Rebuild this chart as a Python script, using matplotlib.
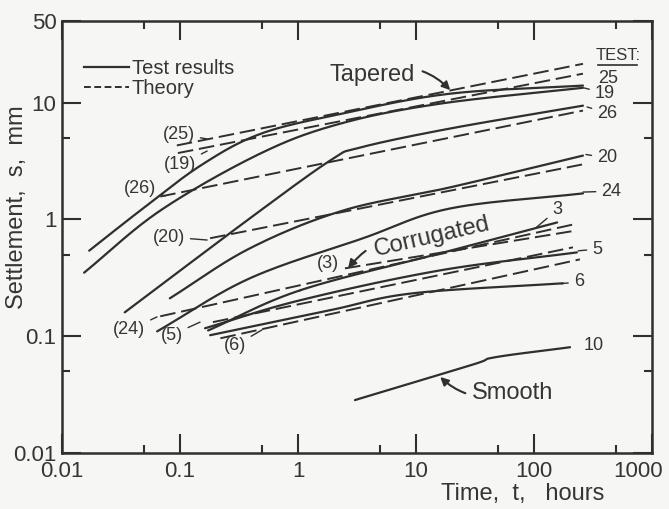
import numpy as np
import matplotlib.pyplot as plt
from matplotlib.lines import Line2D
from matplotlib.ticker import FixedLocator, NullFormatter
import matplotlib.transforms as mtransforms

plt.rcParams['font.family'] = ['Liberation Sans', 'DejaVu Sans']

# test results (solid), time in hours, settlement in mm
t25 = [0.017, 0.046, 0.15, 0.48, 2.3, 19, 260]
s25 = [0.54, 1.19, 2.9, 5.4, 8.0, 11.9, 14.0]
t19 = [0.0154, 0.068, 0.48, 2.27, 16, 260]
s19 = [0.35, 1.19, 3.67, 6.6, 9.8, 13.4]
t26 = [0.034, 0.39, 1.87, 3.35, 19.4, 260]
s26 = [0.16, 1.02, 3.19, 4.12, 6.0, 9.42]
t20 = [0.082, 0.39, 2.4, 19.4, 260]
s20 = [0.211, 0.565, 1.19, 1.88, 3.52]
t24 = [0.064, 0.39, 3.56, 19.4, 260]
s24 = [0.110, 0.313, 0.69, 1.24, 1.67]
t3 = [0.173, 1.04, 16, 157]
s3 = [0.112, 0.247, 0.512, 0.942]
t5 = [0.163, 1.04, 16, 231]
s5 = [0.117, 0.203, 0.366, 0.522]
t6 = [0.18, 1.87, 9.4, 176]
s6 = [0.102, 0.167, 0.233, 0.284]
t10 = [3.04, 30, 46.7, 202]
s10 = [0.0284, 0.057, 0.066, 0.0805]

# theory (dashed)
tt25 = [0.094, 260]
st25 = [4.3, 21.5]
tt19 = [0.096, 260]
st19 = [3.7, 17.7]
tt26 = [0.068, 260]
st26 = [1.57, 8.55]
tt20 = [0.18, 281]
st20 = [0.69, 3.01]
tt24 = [0.068, 231]
st24 = [0.148, 0.92]
tt3 = [2.5, 231]
st3 = [0.381, 0.805]
tt5 = [0.19, 214]
st5 = [0.132, 0.577]
tt6 = [0.22, 245]
st6 = [0.096, 0.455]

xticks = [0.01, 0.1, 1, 10, 100, 1000]
xticklabels = ['0.01', '0.1', '1', '10', '100', '1000']
yticks = [0.01, 0.1, 1, 10, 50]
yticklabels = ['0.01', '0.1', '1', '10', '50']


def spline(t, s, n=40):
    # Catmull-Rom through the read points, in log-log space
    pts = np.column_stack([np.log10(t), np.log10(s)])
    if len(pts) < 3:
        return t, s
    P = np.vstack([2*pts[0] - pts[1], pts, 2*pts[-1] - pts[-2]])
    u = np.linspace(0, 1, n)[:, None]
    out = []
    for i in range(1, len(P) - 2):
        p0, p1, p2, p3 = P[i-1], P[i], P[i+1], P[i+2]
        out.append(0.5*(2*p1 + (p2 - p0)*u + (2*p0 - 5*p1 + 4*p2 - p3)*u**2
                        + (3*p1 - p0 - 3*p2 + p3)*u**3))
    out = np.vstack(out)
    return 10**out[:, 0], 10**out[:, 1]


ink = '#2f2f2f'
tc = '#353535'
bg = '#f6f6f4'
fig = plt.figure(figsize=(6.69, 5.09), dpi=100, facecolor=bg)
ax = fig.add_axes([62/669, 56/509, 590/669, 432/509])
ax.set_facecolor(bg)

solids = [(t25, s25), (t19, s19), (t26, s26), (t20, s20), (t24, s24),
          (t3, s3), (t5, s5), (t6, s6), (t10, s10)]
dashed = [(tt25, st25), (tt19, st19), (tt26, st26), (tt20, st20),
          (tt24, st24), (tt3, st3), (tt5, st5), (tt6, st6)]

for t, s in solids:
    xs, ys = spline(t, s)
    ax.plot(xs, ys, color=ink, lw=1.6, solid_capstyle='round')

for t, s in dashed:
    ax.plot(t, s, color=ink, lw=1.4, dashes=(8, 3))

ax.set_xscale('log')
ax.set_yscale('log')
ax.set_xlim(0.01, 1000)
ax.set_ylim(0.01, 50)

ax.xaxis.set_major_locator(FixedLocator(xticks))
ax.xaxis.set_minor_locator(FixedLocator([0.05, 0.5, 5, 50, 500]))
ax.yaxis.set_major_locator(FixedLocator(yticks))
ax.yaxis.set_minor_locator(FixedLocator([0.05, 0.5, 5]))
ax.set_xticklabels(xticklabels)
ax.set_yticklabels(yticklabels)
ax.xaxis.set_minor_formatter(NullFormatter())
ax.yaxis.set_minor_formatter(NullFormatter())
ax.tick_params(which='both', direction='in', top=True, right=True,
               colors=ink, width=1.5, labelsize=16, labelcolor=tc)
ax.tick_params(which='major', length=14, pad=6)
ax.tick_params(which='minor', length=6)
ax.tick_params(axis='y', which='major', pad=4)
for sp in ax.spines.values():
    sp.set_linewidth(1.8)
    sp.set_color(ink)
# keep the last x label inside the figure
lab = ax.get_xticklabels()[-1]
lab.set_transform(lab.get_transform()
                  + mtransforms.ScaledTranslation(-0.14, 0, fig.dpi_scale_trans))

ax.text(0.78, -0.095, 'Time,  t,   hours', transform=ax.transAxes,
        ha='center', va='center', fontsize=17, color=tc)
ax.text(-0.076, 0.568, 'Settlement,  s,  mm', transform=ax.transAxes,
        ha='center', va='center', rotation=90, fontsize=17, color=tc)

handles = [Line2D([], [], color=ink, lw=1.6),
           Line2D([], [], color=ink, lw=1.4, dashes=(3.5, 1.8))]
ax.legend(handles, ['Test results', 'Theory'], loc='upper left',
          bbox_to_anchor=(0.024, 0.93), frameon=False, fontsize=14.5,
          handlelength=2.2, handletextpad=0.15, labelspacing=0.02,
          borderaxespad=0, labelcolor=tc)


def lbl(txt, xy, tip=None, fs=13, **kw):
    if tip is None:
        ax.text(xy[0], xy[1], txt, transform=ax.transAxes, ha='center',
                va='center', fontsize=fs, color=tc, **kw)
    else:
        ax.annotate(txt, xy=tip, xycoords='axes fraction', xytext=xy,
                    textcoords='axes fraction', ha='center', va='center',
                    fontsize=fs, color=tc,
                    arrowprops=dict(arrowstyle='-', color=ink, lw=1.0,
                                    shrinkA=2, shrinkB=0), **kw)


# left side labels
lbl('(25)', (0.198, 0.738), (0.246, 0.727))
lbl('(19)', (0.200, 0.667), (0.246, 0.699))
lbl('(26)', (0.132, 0.613), (0.175, 0.595))
lbl('(20)', (0.181, 0.500), (0.246, 0.493))
lbl('(24)', (0.114, 0.285), (0.161, 0.315))
lbl('(5)', (0.186, 0.273), (0.234, 0.303))
lbl('(6)', (0.293, 0.248), (0.339, 0.285))
lbl('(3)', (0.451, 0.4375))

# right side labels
ax.text(0.942, 0.919, 'TEST:', transform=ax.transAxes, ha='center',
        va='center', fontsize=12, color=tc)
ax.plot([0.908, 0.975], [0.898, 0.898], transform=ax.transAxes,
        color=ink, lw=1.2)
lbl('25', (0.925, 0.868))
lbl('19', (0.920, 0.833), (0.885, 0.845))
lbl('26', (0.924, 0.787), (0.890, 0.801))
lbl('20', (0.924, 0.683), (0.888, 0.691))
lbl('24', (0.931, 0.606), (0.883, 0.604))
lbl('3', (0.839, 0.5625), (0.802, 0.520))
lbl('5', (0.907, 0.472), (0.875, 0.468))
lbl('6', (0.876, 0.396), (0.846, 0.392))
lbl('10', (0.902, 0.248))

# material labels with curved pointers
arr = dict(arrowstyle='-|>', color=ink, lw=1.5, mutation_scale=12)
ax.annotate('Tapered', xy=(0.658, 0.840), xycoords='axes fraction',
            xytext=(0.525, 0.875), textcoords='axes fraction', ha='center',
            va='center', fontsize=17, color=tc,
            arrowprops=dict(connectionstyle='arc3,rad=-0.35', shrinkA=4,
                            shrinkB=0, **arr))
ax.annotate('Corrugated', xy=(0.485, 0.428), xycoords='axes fraction',
            xytext=(0.627, 0.500), textcoords='axes fraction', ha='center',
            va='center', fontsize=17, color=tc, rotation=13,
            arrowprops=dict(connectionstyle='arc3,rad=0.3', shrinkA=3,
                            shrinkB=0, **arr))
ax.annotate('Smooth', xy=(0.641, 0.176), xycoords='axes fraction',
            xytext=(0.764, 0.139), textcoords='axes fraction', ha='center',
            va='center', fontsize=17, color=tc,
            arrowprops=dict(connectionstyle='arc3,rad=-0.3', shrinkA=3,
                            shrinkB=0, **arr))

fig.savefig('out.png', dpi=100, facecolor=fig.get_facecolor())
